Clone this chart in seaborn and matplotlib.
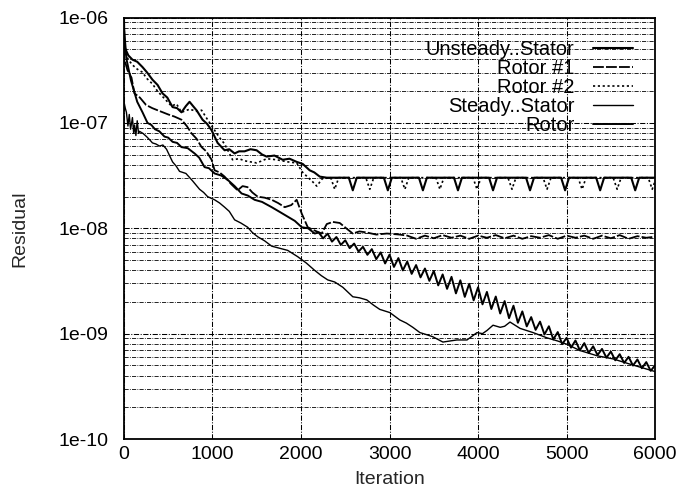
import numpy as np
import pandas as pd
import matplotlib
matplotlib.use("Agg")
import matplotlib.pyplot as plt
import seaborn as sns
from matplotlib.ticker import LogLocator, FixedLocator, NullFormatter

# ---------------- data (log10 of residual) ----------------
series_names = ["Unsteady..Stator", "Rotor #1", "Rotor #2", "Steady..Stator", "Rotor"]

it_unsteady_stator = [0, 6, 50, 96, 150, 209, 260, 322, 380, 436, 490, 549, 600, 650, 700, 741, 780, 820,
                      888, 940, 990, 1058, 1137, 1190, 1250, 1300, 1363, 1430, 1499, 1560, 1612, 1700, 1793, 1870, 1951,
                      2020, 2098, 2150, 2212, 2291,
                      2540, 2585, 2630, 2936, 2981, 3026, 3332, 3377, 3422,
                      3728, 3773, 3818, 4124, 4169, 4214, 4542, 4587, 4632,
                      4938, 4983, 5028, 5334, 5379, 5424, 5730, 5775, 5820, 6000]
log_unsteady_stator = [-6.00, -6.28, -6.36, -6.40, -6.42, -6.47, -6.52, -6.59, -6.64, -6.72, -6.76, -6.85, -6.86, -6.90, -6.84, -6.80, -6.84, -6.88,
                       -6.97, -7.01, -7.07, -7.19, -7.26, -7.25, -7.29, -7.27, -7.27, -7.25, -7.26, -7.30, -7.32, -7.31, -7.35, -7.34, -7.37,
                       -7.39, -7.45, -7.47, -7.51, -7.52,
                       -7.52, -7.64, -7.52, -7.52, -7.64, -7.52, -7.52, -7.64, -7.52,
                       -7.52, -7.64, -7.52, -7.52, -7.64, -7.52, -7.52, -7.64, -7.52,
                       -7.52, -7.64, -7.52, -7.52, -7.64, -7.52, -7.52, -7.64, -7.52, -7.52]

it_unsteady_rotor1 = [0, 6, 40, 85, 119, 180, 250, 320, 379, 440, 500, 570, 650, 710, 764, 820, 877,
                      930, 990, 1024, 1080, 1137, 1210, 1284, 1340, 1397, 1450, 1510, 1590, 1669, 1740, 1816, 1890, 1951, 2008,
                      2076, 2150, 2234, 2291, 2360, 2438, 2510, 2585, 2660, 2743, 2850, 2970, 3116,
                      3200, 3300, 3400, 3500, 3600, 3700, 3800, 3900, 4000, 4100,
                      4200, 4300, 4400, 4500, 4600, 4700, 4800, 4900, 5000, 5100,
                      5200, 5300, 5400, 5500, 5600, 5700, 5800, 5900, 6000]
log_unsteady_rotor1 = [-6.05, -6.40, -6.50, -6.57, -6.72, -6.76, -6.83, -6.86, -6.88, -6.90, -6.92, -6.94, -6.97, -7.03, -7.10, -7.15, -7.23,
                       -7.27, -7.35, -7.45, -7.47, -7.51, -7.58, -7.64, -7.60, -7.61, -7.66, -7.70, -7.71, -7.73, -7.76, -7.80, -7.78, -7.73, -7.86,
                       -7.99, -8.02, -8.05, -7.96, -7.94, -7.95, -8.00, -8.05, -8.03, -8.04, -8.06, -8.05, -8.06,
                       -8.07, -8.10, -8.07, -8.095, -8.065, -8.09, -8.07, -8.10, -8.07, -8.09,
                       -8.065, -8.095, -8.07, -8.10, -8.075, -8.09, -8.065, -8.10, -8.07, -8.09,
                       -8.07, -8.10, -8.07, -8.095, -8.065, -8.10, -8.075, -8.09, -8.08]

it_unsteady_rotor2 = [0, 6, 50, 96, 150, 209, 260, 322, 380, 436, 537, 594, 650, 741,
                      820, 877, 945, 1024, 1080, 1137, 1227, 1300, 1363, 1430, 1499, 1560, 1612, 1725,
                      1850, 1951, 2019, 2133, 2178, 2240,
                      2336, 2381, 2426, 2732, 2777, 2822, 3128, 3173, 3218,
                      3524, 3569, 3614, 3943, 3988, 4033, 4338, 4383, 4428,
                      4734, 4779, 4824, 5130, 5175, 5220, 5526, 5571, 5616,
                      5922, 5967, 6000]
log_unsteady_rotor2 = [-6.02, -6.33, -6.40, -6.45, -6.49, -6.52, -6.58, -6.63, -6.70, -6.75, -6.84, -6.82, -6.90, -6.87,
                       -6.89, -6.88, -6.97, -7.07, -7.14, -7.20, -7.35, -7.34, -7.36, -7.37, -7.38, -7.36, -7.34, -7.35,
                       -7.37, -7.38, -7.47, -7.56, -7.60, -7.53,
                       -7.52, -7.63, -7.52, -7.52, -7.63, -7.52, -7.52, -7.63, -7.52,
                       -7.52, -7.63, -7.52, -7.52, -7.63, -7.52, -7.52, -7.63, -7.52,
                       -7.52, -7.63, -7.52, -7.52, -7.63, -7.52, -7.52, -7.63, -7.52,
                       -7.52, -7.63, -7.55]

it_steady_stator = [0, 15, 28, 45, 60, 75, 96, 110, 120, 135, 150, 165, 175, 215, 255, 290, 322, 360, 402,
                    440, 481, 549, 590, 628, 700, 775, 854, 900, 945, 1024, 1080, 1137, 1190, 1250,
                    1320, 1397, 1450, 1510, 1590, 1669, 1760, 1850, 1963, 2060, 2155, 2230, 2302, 2381, 2472, 2585,
                    2660, 2743, 2820, 2890, 3003, 3116, 3190, 3263, 3343, 3420, 3490, 3603, 3680, 3761, 3875,
                    3988, 4050, 4101, 4169, 4250, 4300, 4361, 4474, 4621, 4779, 4900, 5000,
                    5150, 5345, 5526, 5718, 6000]
log_steady_stator = [-6.80, -6.86, -6.90, -7.03, -6.92, -7.06, -6.95, -7.10, -7.02, -7.12, -6.98, -7.10, -7.08, -7.10, -7.13, -7.16, -7.19, -7.20, -7.22,
                     -7.21, -7.25, -7.37, -7.41, -7.46, -7.48, -7.55, -7.63, -7.66, -7.70, -7.73, -7.76, -7.80, -7.84, -7.92,
                     -7.95, -7.99, -8.04, -8.08, -8.12, -8.17, -8.19, -8.21, -8.27, -8.33, -8.40, -8.45, -8.49, -8.51, -8.56, -8.65,
                     -8.66, -8.68, -8.73, -8.77, -8.80, -8.87, -8.90, -8.94, -8.99, -9.01, -9.03, -9.08, -9.07, -9.06, -9.06,
                     -8.99, -9.00, -8.97, -8.92, -8.94, -8.93, -8.89, -8.95, -8.99, -9.04, -9.07, -9.10,
                     -9.16, -9.21, -9.24, -9.29, -9.36]

it_steady_rotor = [0, 30, 80, 150, 210, 266, 310, 350, 400, 458, 500, 550, 600, 650, 720, 798,
                   850, 911, 960, 1024, 1100, 1171, 1250, 1329, 1400, 1476, 1560,
                   1669, 1750, 1850, 1930, 2008, 2080, 2155, 2200,
                   2250, 2300, 2350, 2400, 2450, 2500, 2550, 2600, 2650, 2700,
                   2750, 2800, 2850, 2900, 2950, 3000, 3050, 3100, 3150, 3200,
                   3250, 3300, 3350, 3400, 3450, 3500, 3550, 3600, 3650, 3700,
                   3750, 3800, 3850, 3900, 3950, 4000, 4050, 4100, 4150, 4200,
                   4250, 4300, 4350, 4400, 4450, 4500, 4550, 4600, 4650, 4700,
                   4750, 4800, 4850, 4900, 4950, 5000, 5050, 5100, 5150, 5200,
                   5250, 5300, 5350, 5400, 5450, 5500, 5550, 5600, 5650, 5700,
                   5750, 5800, 5850, 5900, 5950, 6000]
log_steady_rotor = [-6.10, -6.40, -6.60, -6.80, -6.90, -7.00, -7.02, -7.06, -7.08, -7.13, -7.14, -7.18, -7.19, -7.23, -7.24, -7.29,
                    -7.33, -7.42, -7.43, -7.48, -7.50, -7.54, -7.60, -7.67, -7.69, -7.73, -7.75,
                    -7.80, -7.84, -7.89, -7.93, -7.99, -8.00, -8.05, -8.04,
                    -8.096, -8.051, -8.127, -8.083, -8.158, -8.114, -8.189, -8.145, -8.221, -8.176,
                    -8.252, -8.198, -8.293, -8.229, -8.334, -8.250, -8.367, -8.283, -8.400, -8.316,
                    -8.433, -8.349, -8.466, -8.382, -8.499, -8.405, -8.542, -8.438, -8.575, -8.461,
                    -8.618, -8.494, -8.651, -8.527, -8.684, -8.560, -8.722, -8.604, -8.766, -8.648,
                    -8.809, -8.691, -8.853, -8.735, -8.897, -8.789, -8.931, -8.843, -8.964, -8.886,
                    -9.008, -8.930, -9.055, -8.985, -9.100, -9.040, -9.133, -9.065, -9.158, -9.090,
                    -9.183, -9.120, -9.203, -9.145, -9.228, -9.170, -9.253, -9.195, -9.278, -9.220,
                    -9.303, -9.245, -9.328, -9.270, -9.353, -9.300]

x_ticks = [0, 1000, 2000, 3000, 4000, 5000, 6000]
y_ticks = [1e-10, 1e-09, 1e-08, 1e-07, 1e-06]
y_tick_labels = ["1e-10", "1e-09", "1e-08", "1e-07", "1e-06"]

# ---------------- build long-form table ----------------
all_its = [it_unsteady_stator, it_unsteady_rotor1, it_unsteady_rotor2, it_steady_stator, it_steady_rotor]
all_logs = [log_unsteady_stator, log_unsteady_rotor1, log_unsteady_rotor2, log_steady_stator, log_steady_rotor]
frames = []
for name, its, logs in zip(series_names, all_its, all_logs):
    frames.append(pd.DataFrame({"Iteration": its,
                                "Residual": 10.0 ** np.asarray(logs, dtype=float),
                                "Series": name}))
df = pd.concat(frames, ignore_index=True)

# ---------------- style ----------------
sns.set_theme(style="white")
plt.rcParams["font.family"] = ["Liberation Sans", "DejaVu Sans"]
plt.rcParams["axes.edgecolor"] = "black"
plt.rcParams["text.color"] = "black"
plt.rcParams["xtick.color"] = "black"
plt.rcParams["ytick.color"] = "black"

fig = plt.figure(figsize=(6.81, 4.93), dpi=100)
ax = fig.add_axes([0.182, 0.1095, 0.780, 0.855])

palette = {n: "black" for n in series_names}
dashes = {"Unsteady..Stator": "", "Rotor #1": (6, 1.2), "Rotor #2": (1.3, 1.6),
          "Steady..Stator": "", "Rotor": ""}
sizes = {"Unsteady..Stator": 1.5, "Rotor #1": 1.3, "Rotor #2": 1.2,
         "Steady..Stator": 1.0, "Rotor": 1.4}

sns.lineplot(data=df, x="Iteration", y="Residual", hue="Series", style="Series", size="Series",
             hue_order=series_names, style_order=series_names, size_order=series_names,
             palette=palette, dashes=dashes, sizes=sizes, estimator=None, sort=False, ax=ax)

ax.set_yscale("log")
ax.set_xlim(0, 6000)
ax.set_ylim(1e-10, 1e-06)
ax.set_xticks(x_ticks)
ax.set_xticklabels([str(v) for v in x_ticks])
ax.yaxis.set_major_locator(FixedLocator(y_ticks))
ax.set_yticklabels(y_tick_labels)
ax.yaxis.set_minor_locator(LogLocator(base=10, subs=np.arange(2, 10)))
ax.yaxis.set_minor_formatter(NullFormatter())

grid_ls = (0, (5, 1.5, 1, 1.5))
ax.grid(which="major", axis="both", color="black", linestyle=grid_ls, linewidth=0.75)
ax.grid(which="minor", axis="y", color="black", linestyle=grid_ls, linewidth=0.6)
ax.set_axisbelow(True)

for s in ax.spines.values():
    s.set_visible(True)
    s.set_color("black")
    s.set_linewidth(1.3)

ax.tick_params(axis="both", which="major", direction="in", length=5, width=1, labelsize=14)
ax.tick_params(axis="y", which="major", pad=11)
ax.tick_params(axis="x", which="major", pad=5)
ax.tick_params(axis="y", which="minor", direction="in", length=3, width=0.8)

ax.set_xlabel("Iteration", fontsize=14, labelpad=6)
ax.set_ylabel("Residual", fontsize=14, labelpad=22)

handles, labels = ax.get_legend_handles_labels()
seen = {}
for h, l in zip(handles, labels):
    if l in series_names and l not in seen:
        seen[l] = h
leg_handles = [seen[n] for n in series_names]
for h in leg_handles:
    h.set_color("black")
ax.legend(leg_handles, series_names, loc="upper right", bbox_to_anchor=(0.9586, 0.946),
          frameon=False, markerfirst=False, fontsize=14.5, handlelength=2.0,
          handletextpad=0.9, labelspacing=0.0, borderpad=0, borderaxespad=0)

fig.savefig("out.png", dpi=100, facecolor="white")
